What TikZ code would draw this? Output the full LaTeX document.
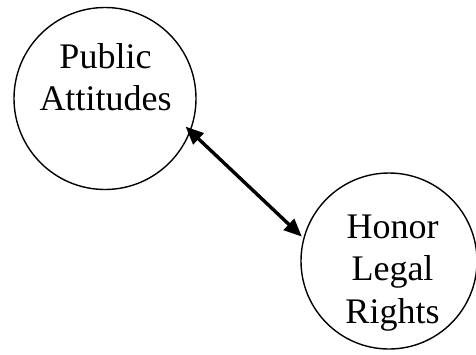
\documentclass[tikz,border=0pt]{standalone}
\usepackage{fontspec}
\setmainfont{Liberation Serif}
\usetikzlibrary{arrows.meta}
\begin{document}
\begin{tikzpicture}[x=1pt,y=-1pt,
  bubble/.style={circle,draw,line width=1.4pt,minimum size=182pt,inner sep=0pt},
  lbl/.style={align=center,font=\fontsize{36}{42.5}\selectfont,inner sep=0pt},
  link/.style={line width=3.4pt,{Triangle[length=18pt,width=15pt]}-{Triangle[length=18pt,width=15pt]}}]
\useasboundingbox (0,0) rectangle (476,354);
\node[bubble] (pa) at (105,98.5) {};
\node[bubble,minimum size=176pt] (hl) at (389,261) {};
\node[lbl] (pat) at (105.5,77) {Public\\Attitudes};
\node[lbl] (hlt) at (392.5,273) {Honor\\Legal\\Rights};
\draw[link,shorten <=-7pt,shorten >=2pt] (pa.-21.5) -- (hl.165);
\end{tikzpicture}
\end{document}
